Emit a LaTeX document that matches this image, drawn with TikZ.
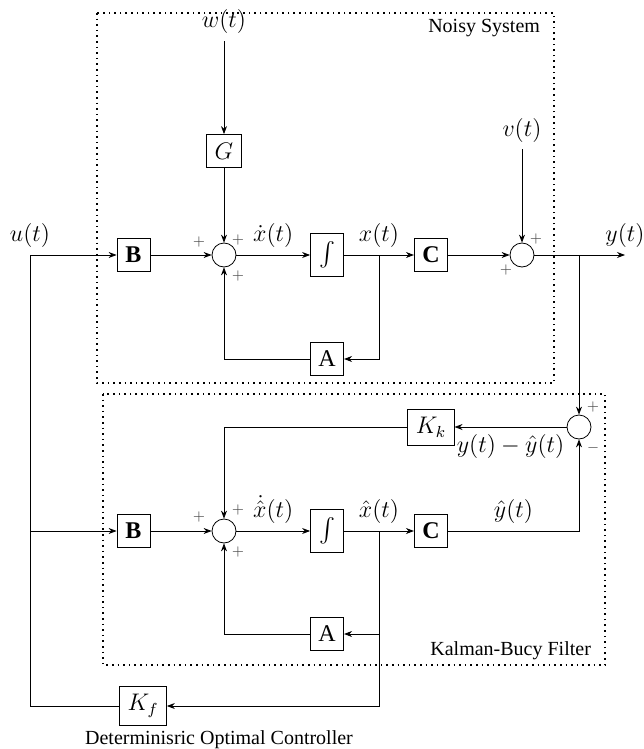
\documentclass[tikz,border=0pt]{standalone}
\usepackage{amsmath}
\usepackage{fontspec}
\setmainfont{Liberation Serif}
\usetikzlibrary{
	arrows.meta,
	positioning,
	calc
}

\begin{document}
\begin{tikzpicture}[
		x=0.5pt, y=-0.5pt,
		>={Stealth[length=4pt,width=3pt]},
		block/.style={
			draw,
			minimum size=16.5pt,
			inner sep=4pt,
			font=\large
		},
		summer/.style={
			circle,
			draw,
			minimum size=12pt,
			inner sep=0pt
		},
		sig/.style={font=\large},
		sgn/.style={font=\scriptsize, text=black!70, inner sep=0pt},
		frame/.style={dotted, line width=0.8pt}
		]
		\useasboundingbox (0,0) rectangle (643,749);
		
		% Noisy system
		\draw[frame] (97,13) rectangle (554,383);
		\node[anchor=east] (nslabel) at (547,28) {Noisy System};
		\node[sig] (w) at (224,22) {$w(t)$};
		\node[sig] (v) at (522,130) {$v(t)$};
		\node[block] (G) at (224,151) {$G$};
		\node[block] (B1) at (133.5,255) {\textbf{B}};
		\node[summer] (S1) at (224,255) {};
		\node[block] (I1) at (327,255) {$\int$};
		\node[block] (C1) at (431,255) {\textbf{C}};
		\node[summer] (S2) at (522,255) {};
		\node[block] (A1) at (327,359) {A};
		\coordinate (u0) at (30,255);
		\coordinate (xb1) at (379,255);
		\coordinate (yb) at (579,255);
		\coordinate (yend) at (625,255);
		
		% Kalman-Bucy filter
		\draw[frame] (103,394) rectangle (605,665);
		\node[anchor=east] (kblabel) at (598,651) {Kalman-Bucy Filter};
		\node[block] (Kk) at (431,427) {$K_k$};
		\node[summer] (S4) at (579,427) {};
		\node[block] (B2) at (133.5,531) {\textbf{B}};
		\node[summer] (S3) at (224,531) {};
		\node[block] (I2) at (327,531) {$\int$};
		\node[block] (C2) at (431,531) {\textbf{C}};
		\node[block] (A2) at (327,634) {A};
		\coordinate (u1) at (30,531);
		\coordinate (xb2) at (379,531);
		\coordinate (xb3) at (379,634);
		
		% Controller
		\node[block] (Kf) at (143,706) {$K_f$};
		\node (oclabel) at (219,740) {Determinisric Optimal Controller};
		
		% Connections (system)
		\node[sig, above] at (u0) {$u(t)$};
		\draw[->] (u0) -- (B1.west);
		\draw[->] (B1) -- (S1);
		\draw[->] (w) -- (G);
		\draw[->] (G) -- (S1);
		\draw[->] (S1) -- node[sig, above] {$\dot{x}(t)$} (I1);
		\draw[->] (I1) -- (C1);
		\node[sig, above] at (xb1) {$x(t)$};
		\draw[->] (C1) -- (S2);
		\draw[->] (v) -- (S2);
		\draw[->] (S2) -- (yend) node[sig, above] {$y(t)$};
		\draw[->] (xb1) |- (A1.east);
		\draw[->] (A1.west) -| (S1.south);
		
		% Connections (filter)
		\draw[->] (yb) -- (S4.north);
		\draw[->] (S4) -- node[sig, below] {$y(t)-\hat{y}(t)$} (Kk);
		\draw[->] (Kk.west) -| (S3.north);
		\draw[->] (u1) -- (B2.west);
		\draw[->] (B2) -- (S3);
		\draw[->] (S3) -- node[sig, above] {$\dot{\hat{x}}(t)$} (I2);
		\draw[->] (I2) -- (C2);
		\node[sig, above] at (xb2) {$\hat{x}(t)$};
		\draw[->] (C2.east) -| node[sig, pos=0.25, above] {$\hat{y}(t)$} (S4.south);
		\draw[->] (xb3) -- (A2.east);
		\draw[->] (A2.west) -| (S3.south);
		
		% Feedback
		\draw[->] (xb2) |- (Kf.east);
		\draw (Kf.west) -| (u0);
		
		% Signs
		\node[sgn] at ([shift={(-25,-13)}]S1.center) {$+$};
		\node[sgn] at ([shift={(14,-15)}]S1.center) {$+$};
		\node[sgn] at ([shift={(14,21)}]S1.center) {$+$};
		\node[sgn] at ([shift={(14,-16)}]S2.center) {$+$};
		\node[sgn] at ([shift={(-16,15)}]S2.center) {$+$};
		\node[sgn] at ([shift={(-25,-14)}]S3.center) {$+$};
		\node[sgn] at ([shift={(14,-21)}]S3.center) {$+$};
		\node[sgn] at ([shift={(14,21)}]S3.center) {$+$};
		\node[sgn] at ([shift={(14,-20)}]S4.center) {$+$};
		\node[sgn] at ([shift={(14,21)}]S4.center) {$-$};
		
	\end{tikzpicture}
\end{document}
